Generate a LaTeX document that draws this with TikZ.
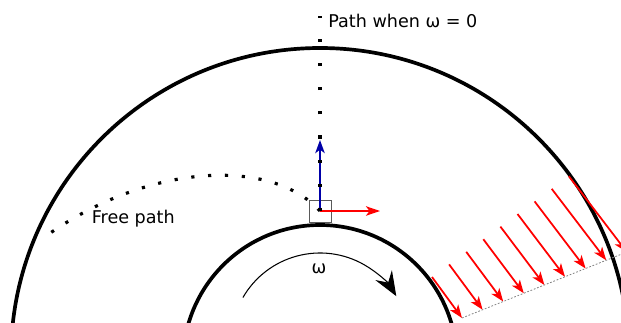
\documentclass[tikz,border=0pt]{standalone}
\usepackage{fontspec}
\setmainfont{DejaVu Sans}
\usetikzlibrary{arrows.meta}
\definecolor{Ink}{HTML}{000000}
\definecolor{Spin}{HTML}{0000A8}
\definecolor{Push}{HTML}{FF0000}
\definecolor{Frame}{HTML}{5A5A5A}
\definecolor{Guide}{HTML}{808080}
\tikzset{
  rim/.style={draw=Ink,line width=2.1pt},
  vel/.style={-{Stealth[length=7.5pt,width=5.6pt,inset=2pt]},draw=Push,line width=1pt},
  rise/.style={-{Stealth[length=7.5pt,width=5.4pt,inset=2pt]},draw=Spin,line width=.9pt},
  push/.style={-{Stealth[length=8pt,width=5.4pt,inset=2pt]},draw=Push,line width=.9pt},
  tipline/.style={draw=Guide,line width=.45pt,dash pattern=on 1pt off 1pt},
  probe/.style={draw=Frame,line width=.6pt,minimum size=12.5pt,inner sep=0pt},
  freedots/.style={draw=Ink,line width=1.8pt,dash pattern=on 1.8pt off 7.8pt},
  restdots/.style={draw=Ink,line width=1.8pt,dash pattern=on 1.8pt off 11.95pt},
  spin/.style={-{Stealth[length=14pt,width=11pt,inset=5pt]},draw=Ink,line width=.6pt},
  tag/.style={inner sep=0pt,text=Ink}
}
\begin{document}
\begin{tikzpicture}[x=0.02cm,y=0.02cm,font=\fontsize{10}{12}\selectfont]
  \useasboundingbox (0,0) rectangle (621,322);
  \clip (0,0) rectangle (621,322);
  % disc and hub
  \coordinate (hubout) at (320,-35);
  \coordinate (hubin) at (320,-40);
  \coordinate (hubspin) at (320,-20);
  \draw[rim] (hubout) circle[radius=309];
  \draw[rim] (hubin) circle[radius=137];
  % velocity field
  \foreach \i in {0,...,8}{
    \coordinate (s\i) at ({432+17.1*\i},{45+12.6*\i});
    \coordinate (t\i) at ({462+20.6*\i},{4+8.25*\i});
    \draw[vel] (s\i) -- (t\i);
  }
  \draw[tipline] (t0) -- (t8);
  % the probe
  \coordinate (mass) at (320,111);
  \coordinate (rtip) at (320,182);
  \coordinate (etip) at (380,111);
  \coordinate (zero) at (320,306);
  \coordinate (land) at (46,86);
  \node[probe] (box) at (320.5,110.5) {};
  \draw[rise] (mass) -- (rtip);
  \draw[push] (mass) -- (etip);
  \draw[restdots] (mass) -- (zero);
  \draw[freedots] (mass) .. controls (272,164) and (150,160) .. (land);
  % labels
  \node[tag,anchor=base west] (zerolbl) at (328,295) {Path when ω = 0};
  \node[tag,anchor=base west] (freelbl) at (91.5,99) {Free path};
  \node[tag,anchor=base] (omega) at (319,49) {ω};
  % rotation
  \draw[spin] (hubspin) ++(150:89) arc[start angle=150,end angle=31,radius=89];
\end{tikzpicture}
\end{document}
